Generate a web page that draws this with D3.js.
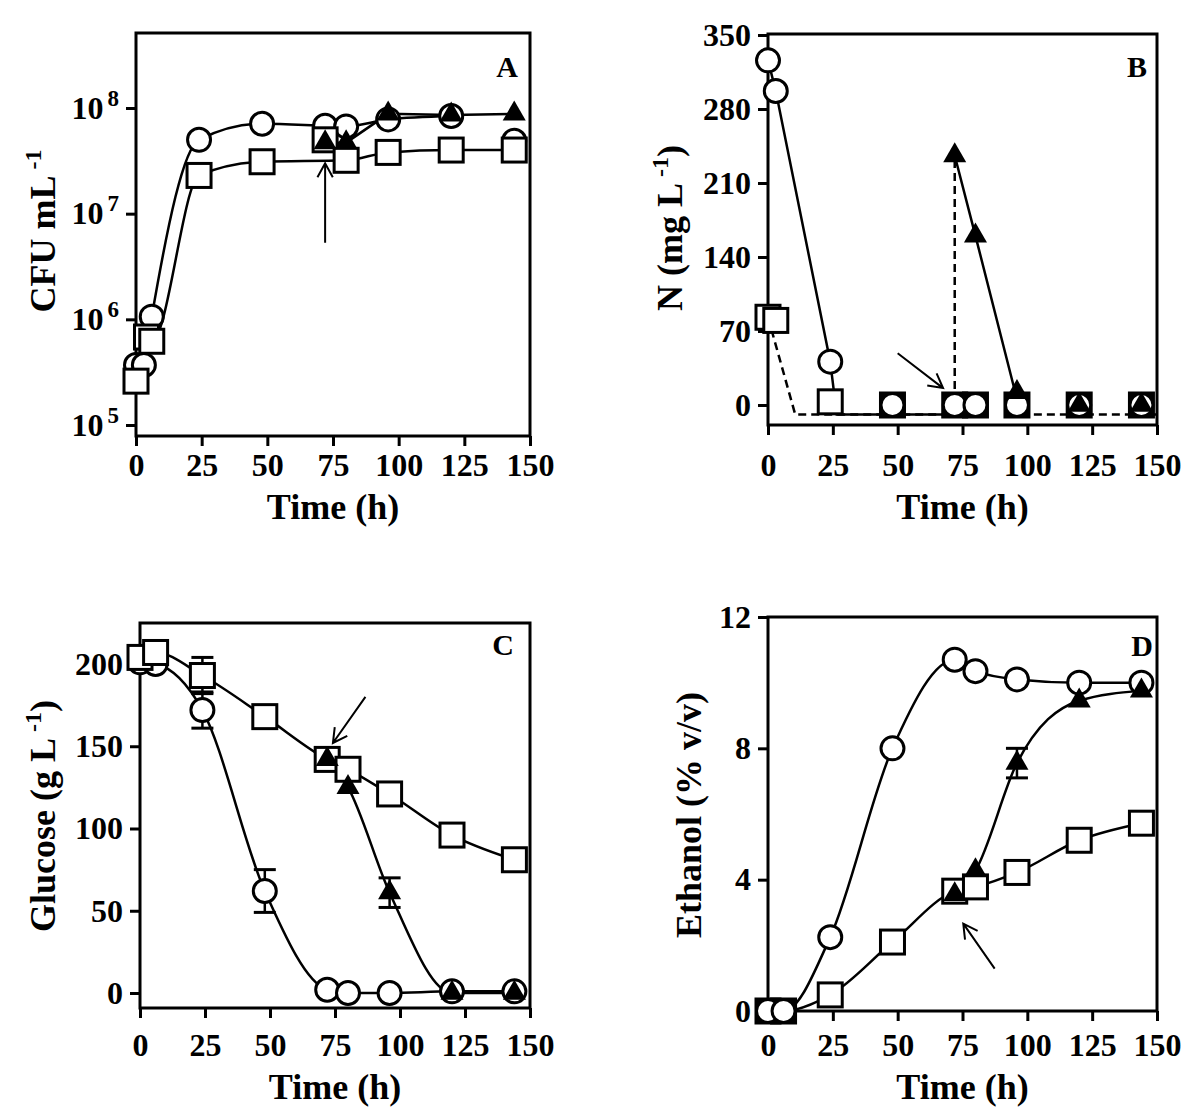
<!DOCTYPE html>
<html>
<head>
<meta charset="utf-8">
<script src="https://cdn.jsdelivr.net/npm/d3@7"></script>
<style>
  body { margin: 0; background: #fff; }
  svg text { font-family: "Liberation Serif", "Times New Roman", serif; font-weight: bold; fill: #000; }
</style>
</head>
<body>
<svg id="chart" width="1200" height="1118"></svg>
<script>
// ---------- data ----------
const timeTicks = [0, 25, 50, 75, 100, 125, 150];

// A: viable cells (CFU/mL), log scale
const cfuCircleT = [0, 3, 6, 24, 48, 72, 80, 96, 120, 144];
const cfuCircle  = [3.7e5, 3.7e5, 1.06e6, 5.0e7, 7.1e7, 6.8e7, 6.7e7, 7.8e7, 8.4e7, 4.9e7];
const cfuSquareT = [0, 4, 6, 24, 48, 72, 80, 96, 120, 144];
const cfuSquare  = [2.6e5, 6.8e5, 6.2e5, 2.3e7, 3.1e7, 5.0e7, 3.2e7, 3.8e7, 4.0e7, 4.0e7];
const cfuTriT    = [72, 80, 96, 120, 144];
const cfuTri     = [4.7e7, 4.7e7, 8.8e7, 8.6e7, 8.8e7];
const cfuTicks   = [1e5, 1e6, 1e7, 1e8];
const arrowA     = [[72, 5.3e6], [72, 3.0e7]];

// B: nitrogen (mg/L)
const nT         = [0, 3, 24, 48, 72, 80, 96, 120, 144];
const nCircle    = [326, 297, 41, 0, 0, 0, 0, 0, 0];
const nSquare    = [83, 80, 3, 0, 0, 0, 0, 0, 0];
const nTriT      = [72, 80, 96, 120, 144];
const nTri       = [236, 160, 12, 0, 0];
const nCircleLineT = [0, 3, 24, 26.5, 72];
const nCircleLineV = [326, 297, 41, -9, -9];
const nDashLineT = [0, 10.5, 72, 72];
const nDashLineV = [83, -9, -9, 236];
const nTriLineT  = [72, 80, 97.5];
const nTriLineV  = [236, 160, -9];
const nTailLineT = [97.5, 150];
const nTailLineV = [-9, -9];
const nTicks     = [0, 70, 140, 210, 280, 350];
const arrowB     = [[50, 49], [67.5, 16]];

// C: glucose (g/L)
const glcT         = [0, 6, 24, 48, 72, 80, 96, 120, 144];
const glcCircle    = [201, 200, 172, 62, 2, 0, 0, 1, 1];
const glcCircleErr = [0, 0, 11, 13, 0, 0, 0, 0, 0];
const glcSquare    = [204, 207, 193, 168, 142, 136, 121, 96, 81];
const glcSquareErr = [0, 0, 11, 0, 0, 0, 0, 0, 0];
const glcTriT      = [72, 80, 96, 120, 144];
const glcTri       = [142, 125, 61, 0, 0];
const glcTriErr    = [0, 0, 9, 0, 0];
const glcTicks     = [0, 50, 100, 150, 200];
const arrowC       = [[86.7, 180], [74.2, 152]];

// D: ethanol (% v/v)
const etT        = [0, 6, 24, 48, 72, 80, 96, 120, 144];
const etCircle   = [0, 0, 2.25, 8.0, 10.7, 10.35, 10.1, 10.0, 10.0];
const etSquare   = [0, 0, 0.49, 2.1, 3.65, 3.78, 4.22, 5.2, 5.72];
const etTriT     = [72, 80, 96, 120, 144];
const etTri      = [3.55, 4.28, 7.55, 9.45, 9.75];
const etTriErr   = [0, 0, 0.45, 0, 0];
const etTicks    = [0, 4, 8, 12];
const arrowD     = [[87.4, 1.29], [75.3, 2.66]];

// ---------- helpers ----------
const svg = d3.select('#chart');

function zip(t, v, e) {
    return t.map((ti, i) => ({ t: ti, v: v[i], e: e ? e[i] : 0 }));
}

function setupPanel(cfg) {
    const g = svg.append('g');
    const x = d3.scaleLinear().domain([0, 150]).range([cfg.left, cfg.right]);
    const y = cfg.y;

    g.append('clipPath').attr('id', 'clip' + cfg.id)
        .append('rect')
        .attr('x', cfg.left).attr('y', cfg.top)
        .attr('width', cfg.right - cfg.left).attr('height', cfg.bottom - cfg.top);

    // x axis
    const xAxis = g.append('g')
        .attr('transform', `translate(0,${cfg.bottom})`)
        .call(d3.axisBottom(x).tickValues(timeTicks).tickSize(10)
            .tickPadding(cfg.labelY - cfg.bottom - 22));
    xAxis.select('.domain').remove();
    xAxis.selectAll('line').attr('stroke', '#000').attr('stroke-width', 3);
    xAxis.selectAll('text').style('font-size', '32px');

    // y axis
    const yAxis = g.append('g')
        .attr('transform', `translate(${cfg.left},0)`)
        .call(d3.axisLeft(y).tickValues(cfg.yTicks).tickSize(10).tickPadding(7)
            .tickFormat(cfg.log ? '' : d3.format('d')));
    yAxis.select('.domain').remove();
    yAxis.selectAll('line').attr('stroke', '#000').attr('stroke-width', 3);
    yAxis.selectAll('text').style('font-size', '32px');
    if (cfg.log) {
        yAxis.selectAll('text').each(function(d) {
            const t = d3.select(this);
            t.append('tspan').text('10');
            t.append('tspan').attr('dx', 4).attr('dy', -13)
                .style('font-size', '23px').text(Math.round(Math.log10(d)));
        });
    }

    // frame
    g.append('rect')
        .attr('x', cfg.left).attr('y', cfg.top)
        .attr('width', cfg.right - cfg.left).attr('height', cfg.bottom - cfg.top)
        .attr('fill', 'none').attr('stroke', '#000').attr('stroke-width', 3);

    // axis titles
    g.append('text')
        .attr('x', (cfg.left + cfg.right) / 2).attr('y', cfg.labelY + 54)
        .attr('text-anchor', 'middle').style('font-size', '36px')
        .text('Time (h)');

    const yt = g.append('text')
        .attr('transform', `translate(${cfg.titleX},${cfg.titleY}) rotate(-90)`)
        .attr('text-anchor', 'middle').style('font-size', '36px');
    yt.append('tspan').text(cfg.yTitle[0]);
    if (cfg.yTitle[1]) {
        yt.append('tspan').attr('dx', 6).attr('dy', -14).style('font-size', '24px').text(cfg.yTitle[1]);
        yt.append('tspan').attr('dy', 14).text(cfg.yTitle[2]);
    }

    g.append('text')
        .attr('x', cfg.letter[0]).attr('y', cfg.letter[1] + 10)
        .attr('text-anchor', 'middle').style('font-size', '30px')
        .text(cfg.id);

    return { g, x, y, clip: 'url(#clip' + cfg.id + ')' };
}

function drawLine(p, pts, curve, dashed) {
    const line = d3.line().x(d => p.x(d.t)).y(d => p.y(d.v)).curve(curve);
    p.g.append('path')
        .datum(pts)
        .attr('d', line)
        .attr('clip-path', p.clip)
        .attr('fill', 'none')
        .attr('stroke', '#000')
        .attr('stroke-width', 2.5)
        .attr('stroke-dasharray', dashed ? '8,5' : null);
}

function drawErr(p, pts) {
    pts.filter(d => d.e > 0).forEach(d => {
        const cx = p.x(d.t), y1 = p.y(d.v - d.e), y2 = p.y(d.v + d.e);
        p.g.append('line').attr('x1', cx).attr('x2', cx).attr('y1', y1).attr('y2', y2)
            .attr('stroke', '#000').attr('stroke-width', 2.5);
        [y1, y2].forEach(yy => {
            p.g.append('line').attr('x1', cx - 11).attr('x2', cx + 11).attr('y1', yy).attr('y2', yy)
                .attr('stroke', '#000').attr('stroke-width', 3);
        });
    });
}

function drawMarkers(p, pts, shape) {
    const sel = p.g.append('g').selectAll('.m').data(pts).enter();
    if (shape === 'circle') {
        sel.append('circle')
            .attr('cx', d => p.x(d.t)).attr('cy', d => p.y(d.v)).attr('r', 11.5)
            .attr('fill', '#fff').attr('stroke', '#000').attr('stroke-width', 3);
    } else if (shape === 'square') {
        // squares sitting at zero render solid in the original
        sel.append('rect')
            .attr('x', d => p.x(d.t) - 12).attr('y', d => p.y(d.v) - 12)
            .attr('width', 24).attr('height', 24)
            .attr('fill', d => d.v === 0 ? '#000' : '#fff')
            .attr('stroke', '#000').attr('stroke-width', 3);
    } else {
        sel.append('path')
            .attr('transform', d => `translate(${p.x(d.t)},${p.y(d.v)})`)
            .attr('d', d3.symbol(d3.symbolTriangle, 230)())
            .attr('fill', '#000');
    }
}

function drawArrow(p, a) {
    const x1 = p.x(a[0][0]), y1 = p.y(a[0][1]), x2 = p.x(a[1][0]), y2 = p.y(a[1][1]);
    const ang = Math.atan2(y2 - y1, x2 - x1);
    const len = 16, spread = 0.5;
    const path = d3.path();
    path.moveTo(x1, y1); path.lineTo(x2, y2);
    path.moveTo(x2 - len * Math.cos(ang - spread), y2 - len * Math.sin(ang - spread));
    path.lineTo(x2, y2);
    path.lineTo(x2 - len * Math.cos(ang + spread), y2 - len * Math.sin(ang + spread));
    p.g.append('path').attr('d', path.toString())
        .attr('fill', 'none').attr('stroke', '#000').attr('stroke-width', 2);
}

// ---------- panel A ----------
const pA = setupPanel({
    id: 'A', left: 136, right: 530, top: 33, bottom: 436,
    y: d3.scaleLog().domain([1e5, 1e8]).range([425, 108]), log: true,
    yTicks: cfuTicks, labelY: 465, titleX: 55, titleY: 231,
    yTitle: ['CFU mL', '-1', ''], letter: [507, 67]
});
const aCircle = zip(cfuCircleT, cfuCircle);
const aSquare = zip(cfuSquareT, cfuSquare);
const aTri = zip(cfuTriT, cfuTri);
drawLine(pA, aCircle.filter(d => d.t <= 120), d3.curveMonotoneX);
drawLine(pA, aSquare.filter(d => d.t !== 72), d3.curveMonotoneX);
drawLine(pA, aTri, d3.curveLinear);
drawMarkers(pA, aCircle, 'circle');
drawMarkers(pA, aSquare, 'square');
drawMarkers(pA, aTri, 'triangle');
drawArrow(pA, arrowA);

// ---------- panel B ----------
const pB = setupPanel({
    id: 'B', left: 768, right: 1157, top: 34, bottom: 425,
    y: d3.scaleLinear().domain([0, 350]).range([405, 35]),
    yTicks: nTicks, labelY: 465, titleX: 682, titleY: 228,
    yTitle: ['N (mg L', '-1', ')'], letter: [1137, 67]
});
drawLine(pB, zip(nDashLineT, nDashLineV), d3.curveLinear, true);
drawLine(pB, zip(nTailLineT, nTailLineV), d3.curveLinear, true);
drawLine(pB, zip(nCircleLineT, nCircleLineV), d3.curveLinear);
drawLine(pB, zip(nTriLineT, nTriLineV), d3.curveLinear);
drawMarkers(pB, zip(nT, nSquare), 'square');
drawMarkers(pB, zip(nT, nCircle), 'circle');
drawMarkers(pB, zip(nTriT, nTri), 'triangle');
drawArrow(pB, arrowB);

// ---------- panel C ----------
const pC = setupPanel({
    id: 'C', left: 140, right: 530, top: 623, bottom: 1008,
    y: d3.scaleLinear().domain([0, 200]).range([993, 664]),
    yTicks: glcTicks, labelY: 1045, titleX: 55, titleY: 816,
    yTitle: ['Glucose (g L', '-1', ')'], letter: [503, 645]
});
const cCircle = zip(glcT, glcCircle, glcCircleErr);
const cSquare = zip(glcT, glcSquare, glcSquareErr);
const cTri = zip(glcTriT, glcTri, glcTriErr);
drawLine(pC, cCircle, d3.curveMonotoneX);
drawLine(pC, cSquare, d3.curveMonotoneX);
drawLine(pC, cTri, d3.curveMonotoneX);
drawErr(pC, cCircle);
drawErr(pC, cSquare);
drawErr(pC, cTri);
drawMarkers(pC, cCircle, 'circle');
drawMarkers(pC, cSquare, 'square');
drawMarkers(pC, cTri, 'triangle');
drawArrow(pC, arrowC);

// ---------- panel D ----------
const pD = setupPanel({
    id: 'D', left: 768, right: 1157, top: 617, bottom: 1011,
    y: d3.scaleLinear().domain([0, 12]).range([1011, 617]),
    yTicks: etTicks, labelY: 1045, titleX: 701, titleY: 815,
    yTitle: ['Ethanol (% v/v)'], letter: [1142, 646]
});
const dCircle = zip(etT, etCircle);
const dSquare = zip(etT, etSquare);
const dTri = zip(etTriT, etTri, etTriErr);
drawLine(pD, dCircle, d3.curveMonotoneX);
drawLine(pD, dSquare, d3.curveMonotoneX);
drawLine(pD, dTri, d3.curveMonotoneX);
drawErr(pD, dTri);
drawMarkers(pD, dSquare, 'square');
drawMarkers(pD, dCircle, 'circle');
drawMarkers(pD, dTri, 'triangle');
drawArrow(pD, arrowD);
</script>
</body>
</html>
